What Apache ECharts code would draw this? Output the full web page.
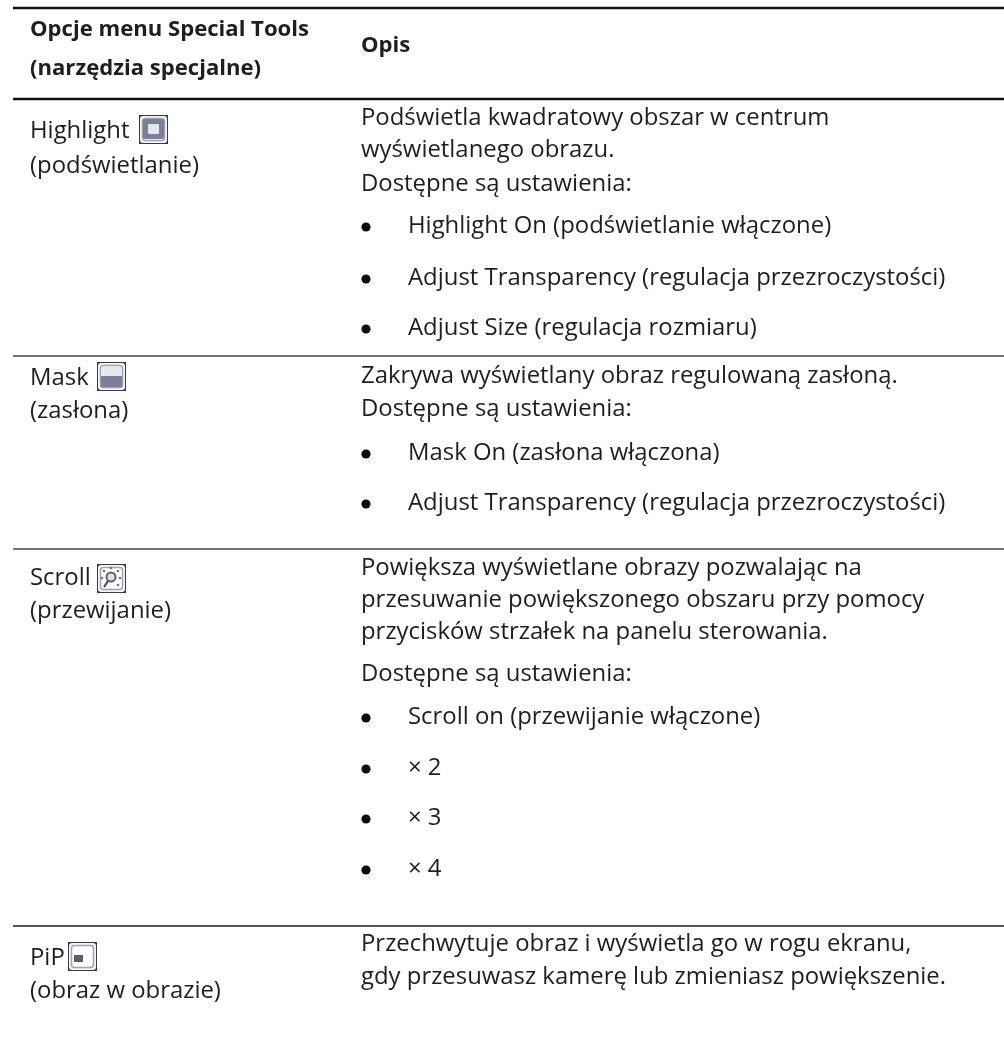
<!DOCTYPE html>
<html lang="pl">
<head>
    <meta charset="UTF-8">
    <title>Opcje menu Special Tools</title>
    <style>
        html, body { margin: 0; padding: 0; background: #fff; }
        #chart1 { width: 1004px; height: 1048px; }
    </style>
</head>
<body>
<div id="chart1"></div>
<script src="https://cdn.jsdelivr.net/npm/echarts@6/dist/echarts.min.js"></script>
<script type="text/javascript">
    // table content
    var headerLeft = ['Opcje menu Special Tools', '(narzędzia specjalne)'];
    var headerRight = ['Opis'];
    var leftLines = ['Highlight', '(podświetlanie)', 'Mask', '(zasłona)', 'Scroll', '(przewijanie)', 'PiP', '(obraz w obrazie)'];
    var rightLines = [
        'Podświetla kwadratowy obszar w centrum',
        'wyświetlanego obrazu.',
        'Dostępne są ustawienia:',
        'Zakrywa wyświetlany obraz regulowaną zasłoną.',
        'Dostępne są ustawienia:',
        'Powiększa wyświetlane obrazy pozwalając na',
        'przesuwanie powiększonego obszaru przy pomocy',
        'przycisków strzałek na panelu sterowania.',
        'Dostępne są ustawienia:',
        'Przechwytuje obraz i wyświetla go w rogu ekranu,',
        'gdy przesuwasz kamerę lub zmieniasz powiększenie.'
    ];
    var bulletLines = [
        'Highlight On (podświetlanie włączone)',
        'Adjust Transparency (regulacja przezroczystości)',
        'Adjust Size (regulacja rozmiaru)',
        'Mask On (zasłona włączona)',
        'Adjust Transparency (regulacja przezroczystości)',
        'Scroll on (przewijanie włączone)',
        '× 2',
        '× 3',
        '× 4'
    ];

    // layout, y values are text baselines
    var leftX = 30, rightX = 361, bulletX = 408, dotX = 366;
    var headerLeftY = [37, 76], headerRightY = [53];
    var leftY = [140, 175, 387, 420, 587, 620, 967, 1000];
    var rightY = [127, 159, 193, 385, 418, 577, 609, 641, 683, 953, 986];
    var bulletY = [235, 287, 337, 462, 512, 726, 777, 827, 878];
    var rules = [[8, 2.5, '#111'], [99, 2.5, '#111'], [356, 1.5, '#444'], [549, 1.5, '#444'], [926, 1.8, '#555']];

    var font = '"Open Sans", "Noto Sans", sans-serif';
    var els = [];

    function txt(s, x, base, bold) {
        var size = bold ? 22.1 : 23.9;
        els.push({
            type: 'text', x: x, y: base - size * 0.35,
            style: { text: s, fontFamily: font, fontSize: size, fontWeight: bold ? 'bold' : 'normal', fill: '#1e1e1e', textVerticalAlign: 'middle' }
        });
    }
    function box(x, y, w, h, fill, stroke, r) {
        els.push({ type: 'rect', shape: { x: x, y: y, width: w, height: h, r: r || 0 }, style: { fill: fill, stroke: stroke || null, lineWidth: stroke ? 1.5 : 0 } });
    }

    rules.forEach(function (r) {
        els.push({ type: 'line', shape: { x1: 13, y1: r[0], x2: 1004, y2: r[0] }, style: { stroke: r[2], lineWidth: r[1] } });
    });
    headerLeft.forEach(function (s, i) { txt(s, leftX, headerLeftY[i], true); });
    headerRight.forEach(function (s, i) { txt(s, rightX, headerRightY[i], true); });
    leftLines.forEach(function (s, i) { txt(s, leftX, leftY[i]); });
    rightLines.forEach(function (s, i) { txt(s, rightX, rightY[i]); });
    bulletLines.forEach(function (s, i) {
        txt(s, bulletX, bulletY[i]);
        els.push({ type: 'circle', shape: { cx: dotX, cy: bulletY[i] - 8, r: 4.6 }, style: { fill: '#0c0c0c' } });
    });

    // toolbar icons
    function iconBase(x, y) {
        box(x, y, 29, 29, '#3a3a3a', null, 0);
        box(x + 1, y + 1, 27, 27, '#f4f5f8', null, 3);
        box(x + 3.5, y + 3.5, 22, 22, '#ffffff', '#9ea3b3', 3);
    }
    iconBase(139, 115);
    box(143, 119, 21, 20, '#7a8196', null, 2);
    box(148, 124, 11, 10, '#e4e7ee', null, 1);
    iconBase(97, 362);
    box(101, 376, 21, 11, '#7a8196', null, 1);
    box(101, 367, 21, 9, '#e6e8ee', null, 1);
    iconBase(97, 564);
    els.push({ type: 'circle', shape: { cx: 111, cy: 577, r: 4.5 }, style: { fill: '#dfe2ea', stroke: '#5c6276', lineWidth: 2 } });
    els.push({ type: 'line', shape: { x1: 108, y1: 581, x2: 104, y2: 587 }, style: { stroke: '#3d4254', lineWidth: 2 } });
    [[111, 568], [104, 571], [118, 571], [102, 578], [120, 578], [118, 585]].forEach(function (p) {
        els.push({ type: 'circle', shape: { cx: p[0], cy: p[1], r: 1.3 }, style: { fill: '#6c7388' } });
    });
    iconBase(68, 942);
    box(74, 955, 9, 7, '#565d73');

    var chart1 = echarts.init(document.getElementById('chart1'));
    chart1.setOption({
        backgroundColor: '#ffffff',
        animation: false,
        graphic: { elements: els }
    });
</script>
</body>
</html>
